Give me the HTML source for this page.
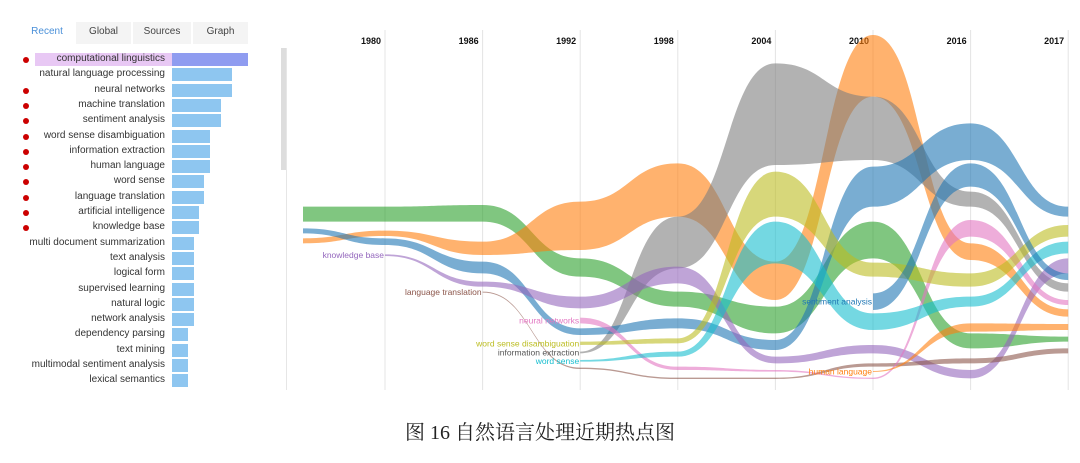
<!DOCTYPE html>
<html><head><meta charset="utf-8">
<style>
body{margin:0;width:1080px;height:463px;background:#fff;overflow:hidden;font-family:"Liberation Sans",sans-serif;position:relative}
.tab{position:absolute;top:22px;height:22px;line-height:20px;font-size:10px;color:#444;text-align:center;background:#f4f4f4}
.row{position:absolute;left:0;width:280px;height:15px}
.lbl{position:absolute;right:115px;font-size:10px;color:#333;top:1px;white-space:nowrap}
.bar{position:absolute;left:172px;top:1px;height:13px;background:#8ec6f0}
.dot{position:absolute;left:23px;top:5px;width:6px;height:6px;border-radius:3px;background:#c00}
</style></head><body>
<div class="tab" style="left:22px;width:50px;background:#fff;color:#4a90d9">Recent</div>
<div class="tab" style="left:76px;width:55px">Global</div>
<div class="tab" style="left:133px;width:58px">Sources</div>
<div class="tab" style="left:193px;width:55px">Graph</div>
<div style="position:absolute;left:281px;top:48px;width:6px;height:122px;background:#ddd"></div>
<div style="position:absolute;left:286px;top:48px;width:1px;height:342px;background:#e6e6e6"></div>
<div id="list"></div>
<svg id="chart" width="1080" height="463" style="position:absolute;left:0;top:0"></svg>
<div style="position:absolute;left:0;width:1080px;top:420px;text-align:center;font-size:20px;line-height:26px;font-family:'Liberation Serif','Noto Serif CJK SC',serif;color:#222">图 16 自然语言处理近期热点图</div>
<script>
const terms=["computational linguistics","natural language processing","neural networks","machine translation","sentiment analysis","word sense disambiguation","information extraction","human language","word sense","language translation","artificial intelligence","knowledge base","multi document summarization","text analysis","logical form","supervised learning","natural logic","network analysis","dependency parsing","text mining","multimodal sentiment analysis","lexical semantics"];
const counts=[76,60,60,49,49,38,38,38,32,32,27,27,22,22,22,22,22,22,16,16,16,16];
const flagged=[1,0,1,1,1,1,1,1,1,1,1,1,0,0,0,0,0,0,0,0,0,0];
const list=document.getElementById('list');
terms.forEach((t,i)=>{
  const r=document.createElement('div');r.className='row';r.style.top=(52+i*15.3)+'px';
  
  
  if(i===0){const h=document.createElement('div');h.style.cssText='position:absolute;left:35px;width:137px;top:1px;height:13px;background:#e8c8f4';r.appendChild(h);}
  if(flagged[i]){const d=document.createElement('div');d.className='dot';
    
    r.appendChild(d);}
  const l=document.createElement('div');l.className='lbl';l.textContent=t;
  
  r.appendChild(l);
  const b=document.createElement('div');b.className='bar';b.style.width=counts[i]+'px';
  if(i===0)b.style.background='#8f9cf0';
  
  r.appendChild(b);
  list.appendChild(r);
});

const years=["1980","1986","1992","1998","2004","2010","2016","2017"];
const names=["computational linguistics","natural language processing","information extraction","machine translation","knowledge base","language translation","neural networks","word sense disambiguation","word sense","sentiment analysis","human language"];
const starts=[0,0,3,0,1,2,3,3,3,6,6];
const tops=[
 [560,560,555,715,815,860,605,940,950],
 [655,632,665,545,430,725,45,670,868],
 [null,null,null,995,590,130,230,515,790],
 [625,655,725,925,895,960,440,310,560],
 [null,703,785,830,740,1010,975,1050,715],
 [null,null,815,1043,1073,1073,1030,1015,985],
 [null,null,null,893,1040,1050,1073,600,840],
 [null,null,null,965,955,455,728,760,615],
 [null,null,null,1020,995,605,880,830,665],
 [null,null,null,null,null,null,820,430,760],
 [null,null,null,null,null,null,1053,910,912]];
const bots=[
 [605,605,605,770,860,940,715,985,965],
 [670,648,705,690,590,840,230,720,890],
 [null,null,null,1000,745,435,420,560,815],
 [640,675,760,945,925,990,560,420,590],
 [null,708,800,865,790,1030,1000,1075,760],
 [null,null,818,1047,1077,1077,1040,1030,1000],
 [null,null,null,910,1050,1055,1077,650,855],
 [null,null,null,975,970,590,770,800,650],
 [null,null,null,1025,1010,730,930,860,700],
 [null,null,null,null,null,null,870,500,780],
 [null,null,null,null,null,null,1056,935,930]];
const colors=["#2ca02c","#ff7f0e","#7f7f7f","#1f77b4","#9467bd","#8c564b","#e377c2","#bcbd22","#17becf","#1f77b4","#ff7f0e"];
const labels=[null,null,{t:"information extraction",c:"#555"},null,{t:"knowledge base"},{t:"language translation"},{t:"neural networks"},{t:"word sense disambiguation"},{t:"word sense"},{t:"sentiment analysis"},{t:"human language"}];

function xScale(i){return i===0?303:385+(i-1)*97.6;}
function yScale(v){return 20+v/3;}
const svg=document.getElementById('chart');const NS='http://www.w3.org/2000/svg';
years.forEach((y,k)=>{
  const x=xScale(k+1);
  const ln=document.createElementNS(NS,'line');
  ln.setAttribute('x1',x);ln.setAttribute('x2',x);ln.setAttribute('y1',30);ln.setAttribute('y2',390);
  ln.setAttribute('stroke','#e4e4e4');ln.setAttribute('stroke-width','1');
  
  
  svg.appendChild(ln);
  const t=document.createElementNS(NS,'text');
  t.setAttribute('x',x-4);t.setAttribute('y',44);t.setAttribute('text-anchor','end');
  t.setAttribute('font-size','9');t.setAttribute('font-weight','bold');t.setAttribute('fill','#111');
  t.textContent=y;
  
  
  svg.appendChild(t);
});
function curve(pts){let d='';for(let i=1;i<pts.length;i++){const [x0,y0]=pts[i-1],[x1,y1]=pts[i];const m=(x0+x1)/2;d+=` C${m},${y0} ${m},${y1} ${x1},${y1}`;}return d;}
names.forEach((n,s)=>{
  const T=[],B=[];
  for(let i=starts[s];i<tops[s].length;i++){T.push([xScale(i),yScale(tops[s][i])]);B.push([xScale(i),yScale(bots[s][i])]);}
  const Br=B.slice().reverse();
  const d=`M${T[0][0]},${T[0][1]}`+curve(T)+` L${Br[0][0]},${Br[0][1]}`+curve(Br)+'Z';
  const p=document.createElementNS(NS,'path');
  p.setAttribute('d',d);p.setAttribute('fill',colors[s]);p.setAttribute('fill-opacity','0.6');
  
  
  svg.appendChild(p);
});
function addLabel(text,color,x,y){
  const t=document.createElementNS(NS,'text');
  t.setAttribute('x',x);t.setAttribute('y',y+3);t.setAttribute('text-anchor','end');
  t.setAttribute('font-size','8.5');t.setAttribute('fill',color);t.textContent=text;
  
  
  svg.appendChild(t);
}
labels.forEach((l,s)=>{if(!l)return;const i=starts[s];const y=yScale((tops[s][i]+bots[s][i])/2);addLabel(l.t,l.c||colors[s],xScale(i)-1,y);});
</script>
</body></html>
